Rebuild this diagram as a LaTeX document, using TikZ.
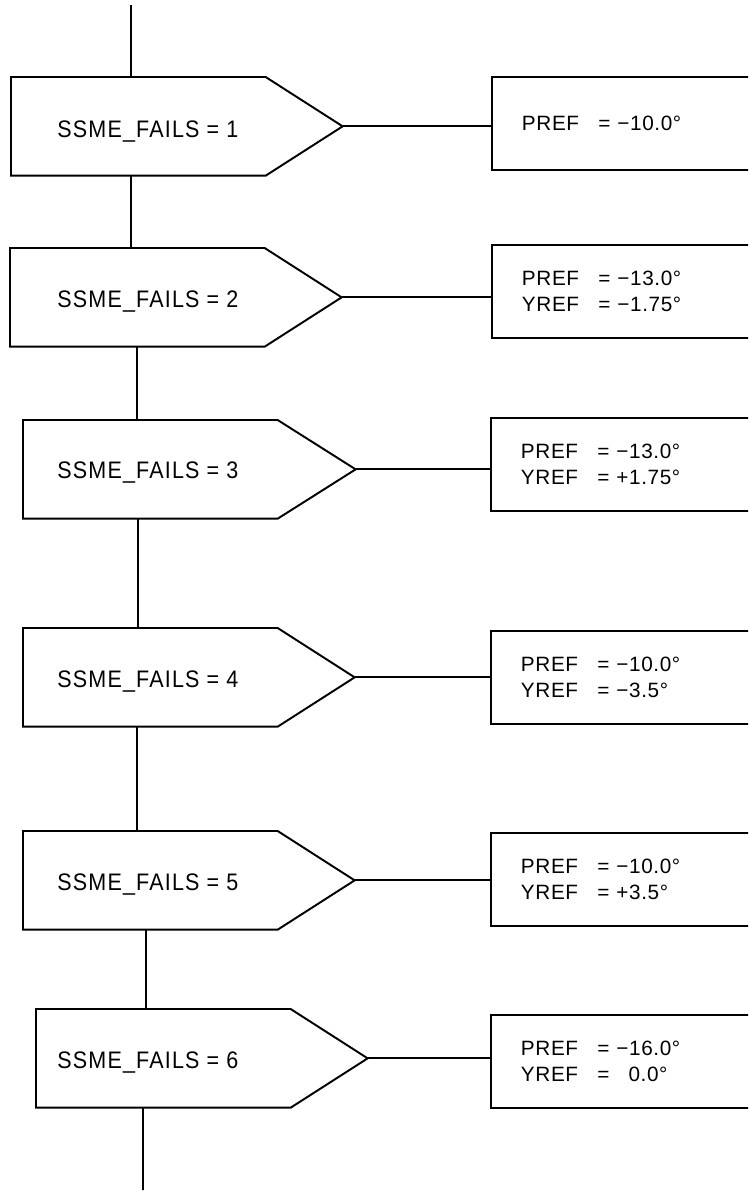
\documentclass[tikz,border=0pt]{standalone}
\usepackage{fontspec}
\setmainfont{Liberation Sans}
\newfontfamily\condfont{Liberation Sans}[FakeStretch=0.9, LetterSpace=5]
\newfontfamily\valfont{Liberation Sans}[LetterSpace=3]
\usepackage{tikz}
\usetikzlibrary{calc}
\tikzset{
  condbox/.style={minimum width=5.08cm, minimum height=1.96cm,
                  anchor=north west, inner sep=0pt},
  condtxt/.style={anchor=base west, inner sep=0pt,
                  font=\condfont\fontsize{13.6}{16}\selectfont},
  valbox/.style ={draw, line width=1.1pt, anchor=north west,
                  minimum width=5.6cm, minimum height=1.86cm,
                  text width=4.4cm, inner xsep=0.58cm, inner ysep=0pt,
                  align=left, font=\valfont\fontsize{11.8}{14.7}\selectfont},
  outl/.style   ={line width=1.1pt, line join=miter},
  ln/.style     ={line width=1pt},
}
\newcommand{\refrow}[2]{\makebox[1.53cm][l]{#1}\makebox[0.38cm][l]{=}#2}

\begin{document}
\begin{tikzpicture}[x=0.02cm, y=-0.02cm]

\useasboundingbox (0,0) rectangle (748,1194);
\clip (0,0) rectangle (748,1194);

% decision boxes
\node[condbox] (b1) at (11,77)   {};
\node[condbox] (b2) at (10,248)  {};
\node[condbox] (b3) at (23,420)  {};
\node[condbox] (b4) at (23,628)  {};
\node[condbox] (b5) at (23,831)  {};
\node[condbox] (b6) at (36,1009) {};

\coordinate (p1) at ($(b1.east)+(77,0)$);
\coordinate (p2) at ($(b2.east)+(77,0)$);
\coordinate (p3) at ($(b3.east)+(78,0)$);
\coordinate (p4) at ($(b4.east)+(77,0)$);
\coordinate (p5) at ($(b5.east)+(77,0)$);
\coordinate (p6) at ($(b6.east)+(77,0)$);

\draw[outl] (b1.north west) -- (b1.north east) -- (p1) -- (b1.south east) -- (b1.south west) -- cycle;
\draw[outl] (b2.north west) -- (b2.north east) -- (p2) -- (b2.south east) -- (b2.south west) -- cycle;
\draw[outl] (b3.north west) -- (b3.north east) -- (p3) -- (b3.south east) -- (b3.south west) -- cycle;
\draw[outl] (b4.north west) -- (b4.north east) -- (p4) -- (b4.south east) -- (b4.south west) -- cycle;
\draw[outl] (b5.north west) -- (b5.north east) -- (p5) -- (b5.south east) -- (b5.south west) -- cycle;
\draw[outl] (b6.north west) -- (b6.north east) -- (p6) -- (b6.south east) -- (b6.south west) -- cycle;

\node[condtxt] (t1) at (57,137)  {SSME\_FAILS = 1};
\node[condtxt] (t2) at (57,307)  {SSME\_FAILS = 2};
\node[condtxt] (t3) at (57,478)  {SSME\_FAILS = 3};
\node[condtxt] (t4) at (57,687)  {SSME\_FAILS = 4};
\node[condtxt] (t5) at (57,890)  {SSME\_FAILS = 5};
\node[condtxt] (t6) at (57,1068) {SSME\_FAILS = 6};

% reference values
\node[valbox] (r1) at (491,76)   {\refrow{PREF}{−10.0°}\\[-0.18cm]};
\node[valbox] (r2) at (491,244)  {\refrow{PREF}{−13.0°}\\\refrow{YREF}{−1.75°}};
\node[valbox] (r3) at (490,417)  {\refrow{PREF}{−13.0°}\\\refrow{YREF}{+1.75°}};
\node[valbox] (r4) at (490,630)  {\refrow{PREF}{−10.0°}\\\refrow{YREF}{−3.5°}};
\node[valbox] (r5) at (490,832)  {\refrow{PREF}{−10.0°}\\\refrow{YREF}{+3.5°}};
\node[valbox] (r6) at (490,1014) {\refrow{PREF}{−16.0°}\\\refrow{YREF}{\phantom{−}0.0°}};

\draw[ln] (p1) -- (p1 -| r1.west);
\draw[ln] (p2) -- (p2 -| r2.west);
\draw[ln] (p3) -- (p3 -| r3.west);
\draw[ln] (p4) -- (p4 -| r4.west);
\draw[ln] (p5) -- (p5 -| r5.west);
\draw[ln] (p6) -- (p6 -| r6.west);

% main line
\coordinate (top) at (131,5);
\coordinate (bot) at (143,1190);
\draw[ln] (top) -- ([xshift=2.4cm]b1.north west);
\draw[ln] ([xshift=2.4cm]b1.south west)  -- ([xshift=2.42cm]b2.north west);
\draw[ln] ([xshift=2.54cm]b2.south west) -- ([xshift=2.28cm]b3.north west);
\draw[ln] ([xshift=2.3cm]b3.south west)  -- ([xshift=2.3cm]b4.north west);
\draw[ln] ([xshift=2.28cm]b4.south west) -- ([xshift=2.28cm]b5.north west);
\draw[ln] ([xshift=2.46cm]b5.south west) -- ([xshift=2.2cm]b6.north west);
\draw[ln] ([xshift=2.14cm]b6.south west) -- (bot);

\end{tikzpicture}
\end{document}
